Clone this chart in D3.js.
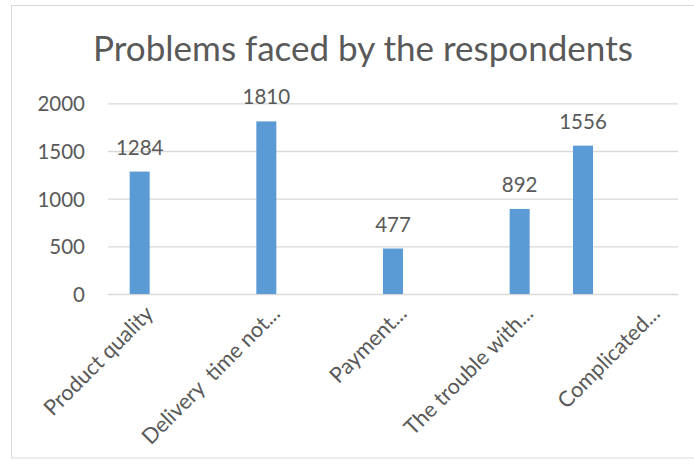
<!DOCTYPE html>
<html><head><meta charset="utf-8">
<script src="https://cdn.jsdelivr.net/npm/d3@7"></script>
<style>
body{margin:0;background:#fff;}
text{font-family:Lato,"Open Sans",sans-serif;fill:#595959;}
</style>
</head><body>
<svg id="chart" width="694" height="468"></svg>
<script>
// ---- data ----
const title = "Problems faced by the respondents";
const categories = ["Product quality", "", "Delivery  time not...", "", "Payment...", "", "The trouble with...", "", "Complicated..."];
const values = [1284, null, 1810, null, 477, null, 892, 1556, null];
const yTicks = [0, 500, 1000, 1500, 2000];

// ---- layout ----
const plot = {left: 108, right: 678, top: 103.3, bottom: 294};
const svg = d3.select("#chart");

svg.append("rect")
  .attr("x", 11.5).attr("y", 5.5).attr("width", 720).attr("height", 452.5)
  .attr("fill", "#fff").attr("stroke", "#d9d9d9").attr("stroke-width", 1);

const x = d3.scaleBand().domain(d3.range(categories.length)).range([plot.left, plot.right]).padding(0);
const y = d3.scaleLinear().domain([0, 2000]).range([plot.bottom, plot.top]);

// y axis with gridlines
const yAxis = svg.append("g")
  .attr("transform", `translate(${plot.left},0)`)
  .call(d3.axisLeft(y).tickValues(yTicks).tickSize(-(plot.right - plot.left)).tickPadding(23).tickFormat(d3.format("d")));
yAxis.select(".domain").remove();
yAxis.selectAll(".tick line").attr("stroke", "#d9d9d9").attr("stroke-width", 1.3);
yAxis.selectAll(".tick text").style("font-size", "20.5px").attr("dy", "0.36em");

// x axis labels
const xAxis = svg.append("g")
  .attr("transform", `translate(0,${plot.bottom})`)
  .call(d3.axisBottom(x).tickSize(0).tickFormat(i => categories[i]));
xAxis.select(".domain").remove();
const catText = xAxis.selectAll(".tick text")
  .attr("x", 0).attr("y", 0).attr("dy", 0)
  .attr("text-anchor", "end")
  .style("white-space", "pre")
  .style("font-size", "20px")
  .attr("transform", "translate(15,21) rotate(-45)");
const lastNode = catText.filter(d => categories[d] === "Complicated...").node();
const catSize = 20 * 134 / lastNode.getComputedTextLength();
catText.style("font-size", catSize.toFixed(2) + "px");

// bars
const bw = x.bandwidth() * 0.316;
const barData = values.map((v, i) => ({i, v})).filter(d => d.v != null);
svg.append("g").selectAll("rect").data(barData).join("rect")
  .attr("x", d => x(d.i) + x.bandwidth() / 2 - bw / 2)
  .attr("y", d => y(d.v))
  .attr("width", bw)
  .attr("height", d => y(0) - y(d.v))
  .attr("fill", "#5b9bd5");

// data labels
svg.append("g").selectAll("text").data(barData).join("text")
  .attr("x", d => x(d.i) + x.bandwidth() / 2)
  .attr("y", d => y(d.v) - 17)
  .attr("text-anchor", "middle")
  .style("font-size", "20.5px")
  .text(d => d.v);

// title
const t = svg.append("text")
  .attr("x", 363).attr("y", 61)
  .attr("text-anchor", "middle")
  .style("font-size", "34px")
  .text(title);
const len = t.node().getComputedTextLength();
t.style("font-size", (34 * 540 / len).toFixed(2) + "px");
</script>
</body></html>
